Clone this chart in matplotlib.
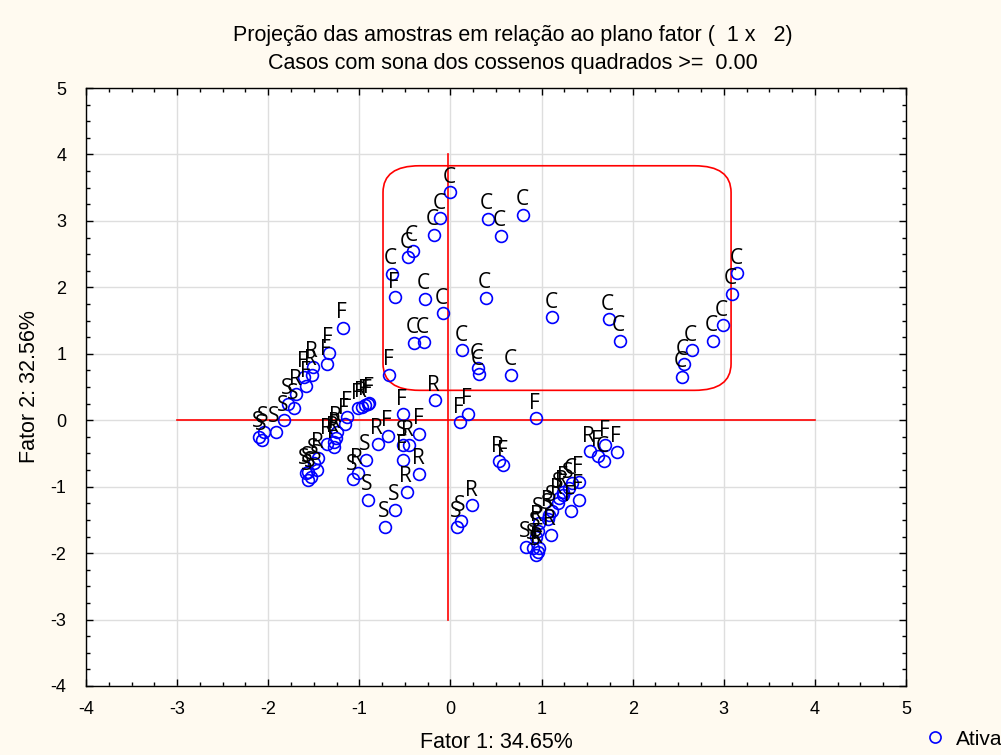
import matplotlib
matplotlib.use("Agg")
import matplotlib.pyplot as plt
from matplotlib.patches import FancyBboxPatch
from matplotlib.lines import Line2D

plt.rcParams["axes.unicode_minus"] = False

# Coordenadas das amostras no plano fatorial (Fator 1 x Fator 2)
fator1 = [
    0.00, -0.11, -0.18, -0.41, -0.47, -0.64, -0.61, -0.28, -0.08, -0.40,
    -0.29, 0.13, 0.30, 0.31, 0.67, -0.67, 0.41, 0.55, 0.80, 0.39,
    1.12, 1.74, 1.86, 2.54, 2.56, 2.65, 2.88, 2.99, 3.09, 3.15,
    -0.17, 0.19, 0.10, 0.94, -0.52, -0.69, -0.80, -0.52, -0.46, -0.52,
    -0.34, -0.34, -0.48, -0.61, -0.90, -0.72, -0.93, -1.02, -1.07, 0.24,
    0.12, 0.07, 0.53, 0.58,
    -1.18, -1.33, -1.36, -1.51, -1.52, -1.61, -1.58, -1.69, -1.72, -1.78,
    -1.83, -1.92, -2.05, -2.07, -2.10,
    -1.13, -1.02, -0.97, -0.94, -0.91, -0.89, -1.16, -1.25, -1.26, -1.28,
    -1.35, -1.28,
    -1.45, -1.50, -1.46, -1.56, -1.59, -1.56, -1.53,
    1.53, 1.62, 1.68, 1.70, 1.83,
    1.41, 1.33, 1.30, 1.24, 1.23, 1.19, 1.41, 1.32, 1.18, 1.12,
    1.08, 1.07, 1.10, 0.97, 0.96, 0.94, 0.83, 0.91, 0.96, 0.94, 0.97,
]
fator2 = [
    3.43, 3.04, 2.79, 2.55, 2.45, 2.20, 1.85, 1.83, 1.61, 1.16,
    1.17, 1.05, 0.78, 0.69, 0.68, 0.68, 3.03, 2.77, 3.09, 1.84,
    1.55, 1.52, 1.19, 0.65, 0.84, 1.05, 1.20, 1.43, 1.90, 2.21,
    0.30, 0.10, -0.03, 0.03, 0.09, -0.24, -0.36, -0.38, -0.38, -0.60,
    -0.21, -0.81, -1.08, -1.35, -1.20, -1.60, -0.60, -0.80, -0.89, -1.28,
    -1.52, -1.60, -0.62, -0.68,
    1.39, 1.01, 0.84, 0.80, 0.68, 0.65, 0.51, 0.39, 0.18, 0.25,
    0.00, -0.18, -0.18, -0.29, -0.25,
    0.05, 0.18, 0.20, 0.23, 0.24, 0.26, -0.05, -0.18, -0.26, -0.33,
    -0.36, -0.41,
    -0.57, -0.65, -0.75, -0.78, -0.80, -0.90, -0.85,
    -0.47, -0.54, -0.62, -0.38, -0.48,
    -0.93, -0.95, -1.02, -1.08, -1.13, -1.17, -1.20, -1.36, -1.25, -1.36,
    -1.43, -1.48, -1.73, -1.54, -1.66, -1.76, -1.91, -1.93, -1.99, -2.03, -1.93,
]
rotulos = (
    list("CCCCCCFCCCCCCCCFCCCC")
    + list("CCCCCCCCCC")
    + list("RFFFFFRSRFFRRSSSSRSR")
    + list("SSRF")
    + list("FFFRRFFRSS")
    + list("SSSSS")
    + list("FFRFFFFRRR")
    + list("RF")
    + list("RSSSSSS")
    + list("RFCFF")
    + list("FCSFRSFFRSRSRSRSSSRSF")
)

fig = plt.figure(figsize=(10.01, 7.55), dpi=100, facecolor="#fffaf0")
ax = fig.add_axes([0.0859, 0.0914, 0.8192, 0.792])
ax.set_facecolor("white")

ax.set_xlim(-4, 5)
ax.set_ylim(-4, 5)
ax.set_xticks(range(-4, 6))
ax.set_yticks(range(-4, 6))
ax.set_xticks([i / 4 for i in range(-16, 21)], minor=True)
ax.set_yticks([i / 4 for i in range(-16, 21)], minor=True)
ax.tick_params(which="both", direction="in", top=True, right=True,
               labelsize=13, colors="black")
ax.tick_params(which="major", length=5, width=1)
ax.tick_params(which="minor", length=3, width=1)
ax.tick_params(axis="x", pad=11)
ax.tick_params(axis="y", pad=14)
for lab in ax.get_xticklabels() + ax.get_yticklabels():
    lab.set_fontfamily("Liberation Sans")
ax.grid(True, which="major", color="#dedede", linewidth=1)
ax.set_axisbelow(True)
for s in ax.spines.values():
    s.set_linewidth(1)

# eixos de referência (desenhados à mão no original)
ax.plot([-3, 4], [0, 0], color="red", linewidth=1.2, zorder=2)
ax.plot([-0.03, -0.03], [-3, 4], color="red", linewidth=1.2, zorder=2)

# destaque do grupo C
caixa = FancyBboxPatch((-0.74, 0.45), 3.82, 3.38,
                       boxstyle="round,pad=0,rounding_size=0.4",
                       fill=False, edgecolor="red", linewidth=1.2, zorder=2)
ax.add_patch(caixa)

ax.plot(fator1, fator2, linestyle="none", marker="o", markersize=8.5,
        markerfacecolor="none", markeredgecolor="blue", markeredgewidth=1.2,
        zorder=3)
for x, y, t in zip(fator1, fator2, rotulos):
    ax.annotate(t, (x, y), xytext=(-1, 7), textcoords="offset points",
                ha="center", va="baseline", fontsize=15,
                fontfamily="Open Sans", color="black", zorder=4)

ax.set_xlabel("Fator 1: 34.65%", fontsize=15.5, fontfamily="Liberation Sans",
              labelpad=10)
ax.set_ylabel("Fator 2: 32.56%", fontsize=15.5, fontfamily="Liberation Sans",
              labelpad=8)

fig.text(0.512, 0.953, "Projeção das amostras em relação ao plano fator (  1 x   2)",
         ha="center", va="center", fontsize=15.5, fontfamily="Liberation Sans")
fig.text(0.512, 0.916, "Casos com sona dos cossenos quadrados >=  0.00",
         ha="center", va="center", fontsize=15.5, fontfamily="Liberation Sans")

marcador = Line2D([], [], linestyle="none", marker="o", markersize=8,
                  markerfacecolor="none", markeredgecolor="blue",
                  markeredgewidth=1.2)
fig.legend([marcador], ["Ativa"], loc="center left",
           bbox_to_anchor=(0.905, 0.021), frameon=False, handlelength=1,
           handletextpad=0.5, prop={"family": "Liberation Sans", "size": 15})

fig.savefig("out.png", dpi=100, facecolor=fig.get_facecolor())
